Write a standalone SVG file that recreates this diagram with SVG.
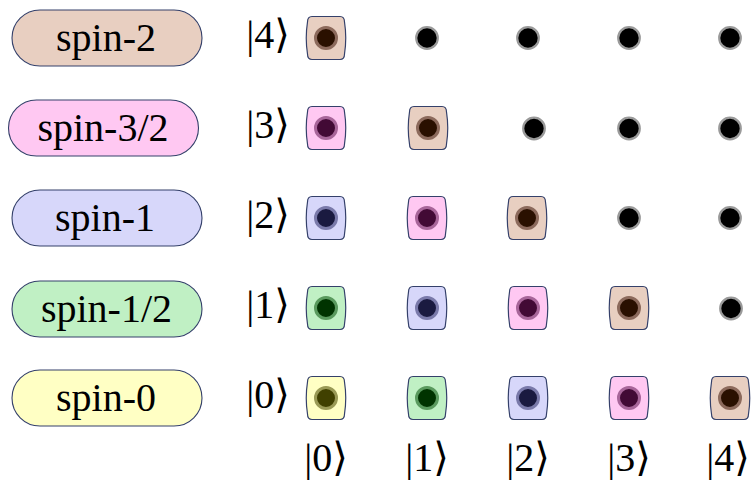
<svg xmlns="http://www.w3.org/2000/svg" width="751" height="481" viewBox="0 0 751 481">
<defs>
<style>
.pill{stroke:#34406a;stroke-width:1.1}
.lbl{font-family:"Liberation Serif","DejaVu Serif",serif;font-size:40px;fill:#000;text-anchor:middle}
.ket{font-family:"Liberation Serif","DejaVu Serif",serif;font-size:40px;fill:#000;text-anchor:middle}
.box{stroke:#34406a;stroke-width:1.2}
.dot{fill:#000;stroke:#9a9a9a;stroke-width:2.2}
.brown{fill:#e8cfc1}.pink{fill:#ffc8f2}.blue{fill:#d7d7fa}.green{fill:#c0f0c4}.yellow{fill:#ffffc4}
.cbrown{fill:#2a1000;stroke:#8c6a5c;stroke-width:3}
.cpink{fill:#420a35;stroke:#a8669a;stroke-width:3}
.cblue{fill:#1a1a40;stroke:#7a7aaa;stroke-width:3}
.cgreen{fill:#003300;stroke:#5a9a5e;stroke-width:3}
.cyellow{fill:#404000;stroke:#9a9a56;stroke-width:3}
</style>
<path id="sq" d="M -14,-21.5 H 14 Q 18.5,-21.5 18.5,-16 Q 21,0 18.5,16 Q 18.5,21.5 14,21.5 H -14 Q -18.5,21.5 -18.5,16 Q -21,0 -18.5,-16 Q -18.5,-21.5 -14,-21.5 Z"/>
</defs>
<!-- spin labels -->
<g id="spin-2"><rect class="pill brown" x="12" y="10" width="190" height="56" rx="28"/><text class="lbl" x="106" y="51">spin-2</text></g>
<g id="spin-3-2"><rect class="pill pink" x="8.5" y="100" width="190" height="56" rx="28"/><text class="lbl" x="103" y="141">spin-3/2</text></g>
<g id="spin-1"><rect class="pill blue" x="12" y="190" width="190" height="56" rx="28"/><text class="lbl" x="105" y="231">spin-1</text></g>
<g id="spin-1-2"><rect class="pill green" x="12" y="281" width="190" height="56" rx="28"/><text class="lbl" x="106.5" y="322">spin-1/2</text></g>
<g id="spin-0"><rect class="pill yellow" x="12" y="370" width="190" height="56" rx="28"/><text class="lbl" x="106" y="411">spin-0</text></g>
<!-- kets -->
<g id="kets-left">
<text class="ket" x="268" y="48">|4⟩</text>
<text class="ket" x="268" y="138">|3⟩</text>
<text class="ket" x="268" y="228">|2⟩</text>
<text class="ket" x="268" y="318">|1⟩</text>
<text class="ket" x="268" y="408">|0⟩</text>
</g>
<g id="kets-bottom">
<text class="ket" x="326" y="471">|0⟩</text>
<text class="ket" x="427" y="471">|1⟩</text>
<text class="ket" x="528" y="471">|2⟩</text>
<text class="ket" x="629" y="471">|3⟩</text>
<text class="ket" x="728" y="471">|4⟩</text>
</g>
<!-- row 4 -->
<g id="n40" transform="translate(326,38)"><use href="#sq" class="box brown"/><circle r="10.5" class="cbrown"/></g>
<g id="d41"><circle class="dot" cx="427" cy="38" r="10.8"/></g>
<g id="d42"><circle class="dot" cx="528" cy="38" r="10.8"/></g>
<g id="d43"><circle class="dot" cx="629" cy="38" r="10.8"/></g>
<g id="d44"><circle class="dot" cx="730" cy="38" r="10.8"/></g>
<!-- row 3 -->
<g id="n30" transform="translate(326,128)"><use href="#sq" class="box pink"/><circle r="10.5" class="cpink"/></g>
<g id="n31" transform="translate(428,128)"><use href="#sq" class="box brown"/><circle r="10.5" class="cbrown"/></g>
<g id="d32"><circle class="dot" cx="534" cy="128.5" r="10.8"/></g>
<g id="d33"><circle class="dot" cx="629" cy="128.5" r="10.8"/></g>
<g id="d34"><circle class="dot" cx="730" cy="128.5" r="10.8"/></g>
<!-- row 2 -->
<g id="n20" transform="translate(326,218)"><use href="#sq" class="box blue"/><circle r="10.5" class="cblue"/></g>
<g id="n21" transform="translate(427,218)"><use href="#sq" class="box pink"/><circle r="10.5" class="cpink"/></g>
<g id="n22" transform="translate(527,218)"><use href="#sq" class="box brown"/><circle r="10.5" class="cbrown"/></g>
<g id="d23"><circle class="dot" cx="629" cy="218" r="10.8"/></g>
<g id="d24"><circle class="dot" cx="730" cy="218" r="10.8"/></g>
<!-- row 1 -->
<g id="n10" transform="translate(326,308)"><use href="#sq" class="box green"/><circle r="10.5" class="cgreen"/></g>
<g id="n11" transform="translate(427,308)"><use href="#sq" class="box blue"/><circle r="10.5" class="cblue"/></g>
<g id="n12" transform="translate(528,308)"><use href="#sq" class="box pink"/><circle r="10.5" class="cpink"/></g>
<g id="n13" transform="translate(629,308)"><use href="#sq" class="box brown"/><circle r="10.5" class="cbrown"/></g>
<g id="d14"><circle class="dot" cx="731" cy="308.5" r="10.8"/></g>
<!-- row 0 -->
<g id="n00" transform="translate(326,398)"><use href="#sq" class="box yellow"/><circle r="10.5" class="cyellow"/></g>
<g id="n01" transform="translate(427,398)"><use href="#sq" class="box green"/><circle r="10.5" class="cgreen"/></g>
<g id="n02" transform="translate(528,398)"><use href="#sq" class="box blue"/><circle r="10.5" class="cblue"/></g>
<g id="n03" transform="translate(629,398)"><use href="#sq" class="box pink"/><circle r="10.5" class="cpink"/></g>
<g id="n04" transform="translate(730,398)"><use href="#sq" class="box brown"/><circle r="10.5" class="cbrown"/></g>
</svg>
